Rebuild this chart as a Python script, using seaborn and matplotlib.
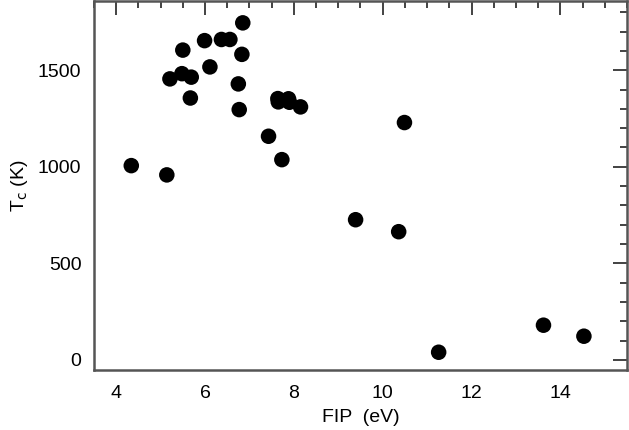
import numpy as np
import pandas as pd
import matplotlib
matplotlib.use("Agg")
import matplotlib.pyplot as plt
import seaborn as sns
from matplotlib.ticker import MultipleLocator

# first ionization potential (eV) and condensation temperature (K)
fip = [4.34, 5.14, 5.21, 5.48, 5.50, 5.69, 5.67, 5.99, 6.11, 6.37, 6.56,
       6.85, 6.83, 6.75, 6.77, 7.43, 7.64, 7.65, 7.88, 7.90, 8.15, 7.73,
       9.39, 10.36, 10.49, 11.26, 13.62, 14.53]
tc = [1006, 958, 1455, 1482, 1604, 1464, 1356, 1653, 1517, 1659, 1659,
      1745, 1582, 1429, 1296, 1158, 1353, 1336, 1352, 1334, 1310, 1037,
      726, 664, 1229, 40, 180, 123]

df = pd.DataFrame({"FIP": fip, "Tc": tc})

sns.set_style("white")
plt.rcParams["font.family"] = ["Liberation Sans", "DejaVu Sans"]
plt.rcParams["text.color"] = "black"
plt.rcParams["axes.labelcolor"] = "black"

fig = plt.figure(figsize=(6.29, 4.30), dpi=100)
ax = fig.add_axes([0.1494, 0.1395, 0.8474, 0.859])

sns.scatterplot(data=df, x="FIP", y="Tc", ax=ax, color="black", s=125,
                edgecolor="none", legend=False)

ax.set_xlim(3.5, 15.5)
ax.set_ylim(-52, 1860)
ax.xaxis.set_major_locator(MultipleLocator(2))
ax.xaxis.set_minor_locator(MultipleLocator(0.5))
ax.yaxis.set_major_locator(MultipleLocator(500))
ax.yaxis.set_minor_locator(MultipleLocator(100))
ax.tick_params(which="both", direction="in", top=True, right=True,
               color="#222222", width=1.2, labelsize=14, labelcolor="black")
ax.tick_params(axis="x", which="major", length=10, pad=11)
ax.tick_params(axis="y", which="major", length=10, pad=9)
ax.tick_params(which="minor", length=5)
for sp in ax.spines.values():
    sp.set_color("#555555")
    sp.set_linewidth(1.8)

ax.set_xlabel("FIP  (eV)", fontsize=14, labelpad=5)
ax.set_ylabel(r"T$_{\rm c}$ (K)", fontsize=14, labelpad=6)

fig.savefig("out.png", dpi=100)
